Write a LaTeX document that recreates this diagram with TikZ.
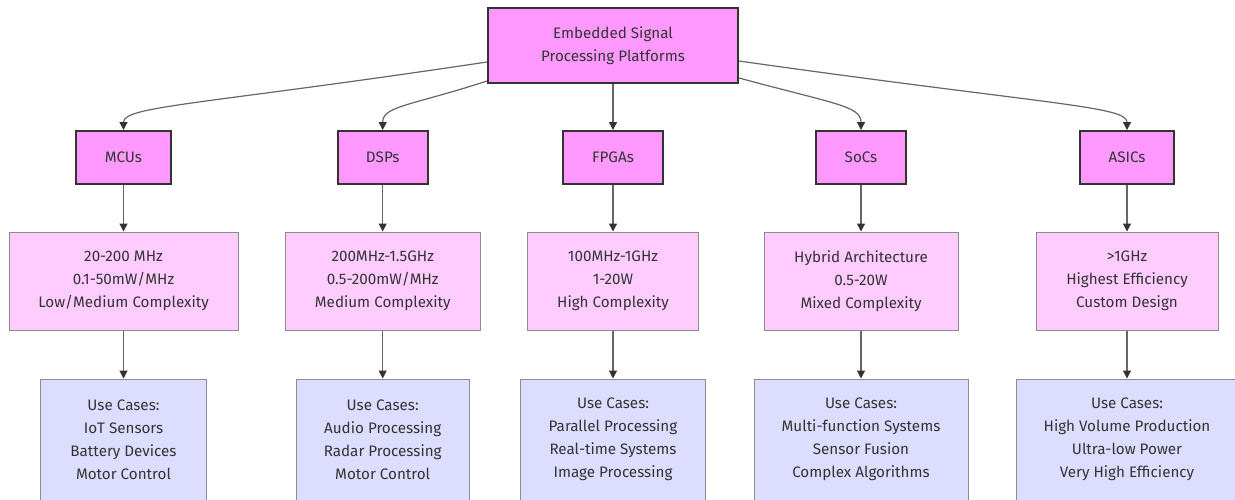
\documentclass[tikz,border=0pt]{standalone}
\usepackage{fontspec}
\setmainfont{Fira Sans}
\usetikzlibrary{arrows.meta}
\definecolor{txt}{HTML}{333333}
\definecolor{rootfill}{HTML}{FF99FF}
\definecolor{specfill}{HTML}{FFCCFF}
\definecolor{usefill}{HTML}{DDDDFF}
\definecolor{edge}{HTML}{666666}
\tikzset{
  base/.style={rectangle, inner sep=0pt, align=center, text=txt,
    font=\fontsize{15.2}{23}\selectfont},
  rootbox/.style={base, fill=rootfill, draw=txt, line width=2pt},
  platbox/.style={base, fill=rootfill, draw=txt, line width=2pt, minimum height=53pt},
  specbox/.style={base, fill=specfill, draw=black!45, line width=1pt, minimum height=98pt},
  usebox/.style={base, fill=usefill, draw=black!45, line width=1pt, minimum height=121pt},
  link/.style={draw=edge, line width=1.2pt, -{Triangle[length=8pt,width=8pt,fill=txt,color=txt]}}
}
\begin{document}
\begin{tikzpicture}[x=1pt,y=-1pt]
\useasboundingbox (0,0) rectangle (1235,499);
\node[rootbox, minimum width=250pt, minimum height=75pt] (root) at (613,45.5) {Embedded Signal\\Processing Platforms};

\node[platbox, minimum width=95pt] (mcu) at (123.5,157.5) {MCUs};
\node[platbox, minimum width=90pt] (dsp) at (382.7,157.5) {DSPs};
\node[platbox, minimum width=100pt] (fpga) at (613,157.5) {FPGAs};
\node[platbox, minimum width=90pt] (soc) at (861,157.5) {SoCs};
\node[platbox, minimum width=94pt] (asic) at (1127,157.5) {ASICs};

\node[specbox, minimum width=229pt] (mcus) at (123.5,281) {20-200 MHz\\0.1-50mW/MHz\\Low/Medium Complexity};
\node[specbox, minimum width=195pt] (dsps) at (382.7,281) {200MHz-1.5GHz\\0.5-200mW/MHz\\Medium Complexity};
\node[specbox, minimum width=171pt] (fpgas) at (613,281) {100MHz-1GHz\\1-20W\\High Complexity};
\node[specbox, minimum width=194pt] (socs) at (861,281) {Hybrid Architecture\\0.5-20W\\Mixed Complexity};
\node[specbox, minimum width=182pt] (asics) at (1127,281) {>1GHz\\Highest Efficiency\\Custom Design};

\node[usebox, minimum width=166pt] (mcuu) at (123.5,439.5) {Use Cases:\\IoT Sensors\\Battery Devices\\Motor Control};
\node[usebox, minimum width=173pt] (dspu) at (382.7,439.5) {Use Cases:\\Audio Processing\\Radar Processing\\Motor Control};
\node[usebox, minimum width=185pt] (fpgau) at (613,439.5) {Use Cases:\\Parallel Processing\\Real-time Systems\\Image Processing};
\node[usebox, minimum width=214pt] (socu) at (861,439.5) {Use Cases:\\Multi-function Systems\\Sensor Fusion\\Complex Algorithms};
\node[usebox, minimum width=222pt] (asicu) at (1127,439.5) {Use Cases:\\High Volume Production\\Ultra-low Power\\Very High Efficiency};

\coordinate (rl1) at (root.west |- 0,62);
\coordinate (rl2) at (root.west |- 0,81);
\coordinate (rr1) at (root.east |- 0,61);
\coordinate (rr2) at (root.east |- 0,78);

\draw[link] (rl1) .. controls (200,105) and (123.5,106) .. (mcu.north);
\draw[link] (rl2) .. controls (410,106) and (382.7,106) .. (dsp.north);
\draw[link] (root.south) -- (fpga.north);
\draw[link] (rr2) .. controls (835,104) and (861,106) .. (soc.north);
\draw[link] (rr1) .. controls (1050,105) and (1127,106) .. (asic.north);

\foreach \a/\b in {mcu/mcus,dsp/dsps,fpga/fpgas,soc/socs,asic/asics,mcus/mcuu,dsps/dspu,fpgas/fpgau,socs/socu,asics/asicu}
  \draw[link] (\a) -- (\b);
\end{tikzpicture}
\end{document}
